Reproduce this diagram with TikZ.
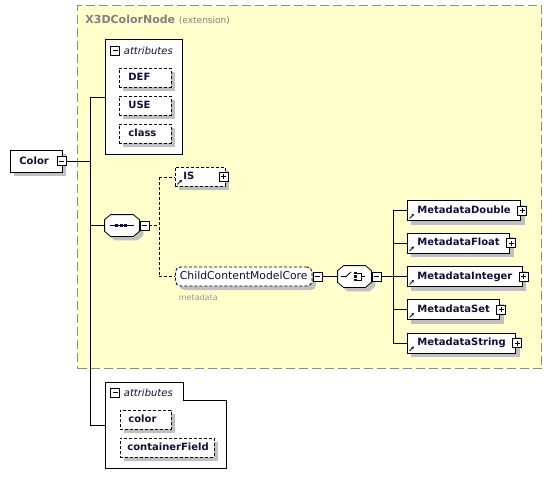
\documentclass[tikz,border=0pt]{standalone}
\usepackage{fontspec}
\setmainfont{DejaVu Sans}
\usetikzlibrary{shadows,arrows.meta}
\definecolor{txt}{HTML}{10103A}
\definecolor{shadowgray}{RGB}{192,192,192}
\definecolor{extfill}{RGB}{255,255,204}
\definecolor{extline}{RGB}{140,140,140}
\definecolor{titlegray}{RGB}{128,128,128}
\definecolor{metagray}{RGB}{150,150,150}
\newcommand\xsst{\rule[-2.4pt]{0pt}{9.7pt}}
\newcommand\xsarrow[1]{\draw[txt, line width=0.9pt, -{Stealth[length=3pt,width=3pt]}] ([shift={(2.5pt,2.5pt)}]#1.south west) -- ++(4.5pt,4.5pt);}
\newcommand\xsoct[1]{%
  \fill[shadowgray, transform canvas={shift={(4pt,-4pt)}}] ([xshift=6pt]#1.north west) -- ([xshift=-6pt]#1.north east) -- ([yshift=-5pt]#1.north east) -- ([yshift=5pt]#1.south east) -- ([xshift=-6pt]#1.south east) -- ([xshift=6pt]#1.south west) -- ([yshift=5pt]#1.south west) -- ([yshift=-5pt]#1.north west) -- cycle;
  \draw[fill=white, line width=0.8pt] ([xshift=6pt]#1.north west) -- ([xshift=-6pt]#1.north east) -- ([yshift=-5pt]#1.north east) -- ([yshift=5pt]#1.south east) -- ([xshift=-6pt]#1.south east) -- ([xshift=6pt]#1.south west) -- ([yshift=5pt]#1.south west) -- ([yshift=-5pt]#1.north west) -- cycle;}
\begin{document}
\begin{tikzpicture}[x=1pt,y=-1pt, line width=0.8pt,
  every node/.style={text=txt},
  pm/.style={draw=black, fill=white, minimum size=9pt, inner sep=0pt, line width=0.7pt},
  minus/.style={pm, path picture={\draw[line width=0.7pt] ([xshift=2pt]path picture bounding box.west) -- ([xshift=-2pt]path picture bounding box.east);}},
  plus/.style={pm, path picture={\draw[line width=0.7pt] ([xshift=2pt]path picture bounding box.west) -- ([xshift=-2pt]path picture bounding box.east) ([yshift=-2pt]path picture bounding box.north) -- ([yshift=2pt]path picture bounding box.south);}},
  shad/.style={drop shadow={shadow xshift=4pt, shadow yshift=-4pt, fill=shadowgray, opacity=1}},
  dsh/.style={dash pattern=on 3pt off 2pt},
  boldten/.style={font=\fontsize{10}{12}\selectfont\bfseries},
  attrbox/.style={draw, fill=white, dsh, shad, boldten, anchor=north west, inner xsep=9pt, inner ysep=0pt, minimum height=19pt, text width=34pt, align=left},
  elbox/.style={draw, fill=white, shad, boldten, anchor=west, inner xsep=0pt, inner ysep=0pt, minimum height=20pt},
  conn/.style={line width=0.8pt},
  hdr/.style={anchor=west, inner sep=0pt, font=\fontsize{10}{12}\selectfont\itshape},
]
\useasboundingbox[fill=white] (0,0) rectangle (551,488);

% extension area
\node[draw=extline, fill=extfill, dash pattern=on 9pt off 4pt, line width=1.2pt, minimum width=464pt, minimum height=363pt, anchor=north west, inner sep=0pt] (ext) at (77,5) {};
\node[anchor=west, inner sep=0pt, text=titlegray] (title) at (85,20) {\fontsize{11}{13}\selectfont\bfseries X3DColorNode \fontsize{9}{11}\selectfont\mdseries(extension)};

% first attributes group
\node[draw, fill=white, minimum width=77pt, minimum height=115pt, anchor=north west, inner sep=0pt] (attrA) at (105,39) {};
\node[minus] (minA) at (115,50.5) {};
\node[hdr] (hdrA) at (123.5,50.5) {attributes};
\node[attrbox] (def) at (119,68) {\xsst DEF};
\node[attrbox] (use) at (119,96) {\xsst USE};
\node[attrbox] (cls) at (119,124) {\xsst class};

% second attributes group
\node[minimum width=121pt, minimum height=86pt, anchor=north west, inner sep=0pt] (attrB) at (105,382) {};
\draw[fill=white] (105,382) -- (183,382) -- (183,400) -- (226,400) -- (226,468) -- (105,468) -- cycle;
\node[minus] (minB) at (115,392.5) {};
\node[hdr] (hdrB) at (123.5,392.5) {attributes};
\node[attrbox, inner xsep=8pt, text width=35pt] (colattr) at (120,410) {\xsst color};
\node[attrbox, inner xsep=7pt, text width=80pt] (cf) at (120,438) {\xsst containerField};

% root element
\node[draw, fill=white, shad, boldten, anchor=north west, inner xsep=9pt, inner ysep=0pt, minimum height=22pt, text width=34pt, align=left] (color) at (10,150) {\xsst Color};
\node[minus] (colminus) at (61.5,161) {};

% sequence
\node[minimum width=34pt, minimum height=21pt, inner sep=0pt] (seq) at (122,225.5) {};
\xsoct{seq}
\draw[line width=0.8pt] (110,225.5) -- (134,225.5);
\fill[txt] (115,224) rectangle (118,227);
\fill[txt] (119.5,224) rectangle (122.5,227);
\fill[txt] (124,224) rectangle (127,227);
\node[minus] (seqminus) at ([xshift=5pt]seq.east) {};

% root connectors
\coordinate (vA) at (90,97);
\coordinate (vB) at (90,425);
\draw[conn] (colminus.east) -- (colminus.east -| vA);
\draw[conn] (vA) -- (vB);
\draw[conn] (vA) -- (vA -| attrA.west);
\draw[conn] (seq.west -| vA) -- (seq.west);
\draw[conn] (vB) -- (vB -| attrB.west);

% IS
\node[attrbox, inner xsep=8pt] (is) at (175,167) {\xsst IS};
\xsarrow{is}
\node[plus] (isplus) at (223.5,176.5) {};

% ChildContentModelCore
\node[draw, fill=white, dsh, shad, rounded corners=5pt, anchor=west, inner xsep=4.5pt, inner ysep=0pt, minimum height=19pt, font=\fontsize{10.8}{13}\selectfont] (ccmc) at (175,276.5) {\xsst ChildContentModelCore};
\node[minus] (ccmcminus) at ([xshift=5pt]ccmc.east) {};
\node[anchor=west, inner sep=0pt, text=metagray, font=\fontsize{8}{10}\selectfont] (metalbl) at (178.5,298) {metadata};

% sequence connectors
\coordinate (sj) at (159,225.5);
\draw[conn,dsh] (seqminus.east) -- (sj);
\draw[conn,dsh] (sj |- is.west) -- (sj |- ccmc.west);
\draw[conn,dsh] (sj |- is.west) -- (is.west);
\draw[conn,dsh] (sj |- ccmc.west) -- (ccmc.west);

% choice
\node[minimum width=33pt, minimum height=21pt, inner sep=0pt] (choice) at (354.5,276.5) {};
\xsoct{choice}
\draw[line width=0.8pt] (341,276.5) -- (346,276.5) -- (351,272);
\fill[txt] (354,272) rectangle (356.5,274.2);
\fill[txt] (354,275.4) rectangle (356.5,277.6);
\fill[txt] (354,278.8) rectangle (356.5,281);
\draw[line width=0.8pt] (356.5,273.1) -- (361.5,273.1) -- (361.5,279.9) -- (356.5,279.9);
\draw[line width=0.8pt] (361.5,276.5) -- (365,276.5);
\node[minus] (choiceminus) at ([xshift=5pt]choice.east) {};
\draw[conn] (ccmcminus.east) -- (choice.west);

% metadata elements
\node[elbox] (md) at (407,210.5) {\xsst\hspace*{10pt}MetadataDouble\hspace*{10pt}};
\node[elbox] (mf) at (407,243) {\xsst\hspace*{10pt}MetadataFloat\hspace*{10pt}};
\node[elbox] (mi) at (407,276.5) {\xsst\hspace*{10pt}MetadataInteger\hspace*{10pt}};
\node[elbox] (ms) at (407,309.5) {\xsst\hspace*{10pt}MetadataSet\hspace*{10pt}};
\node[elbox] (mstr) at (407,343) {\xsst\hspace*{10pt}MetadataString\hspace*{10pt}};
\foreach \n in {md,mf,mi,ms,mstr} {
  \xsarrow{\n}
  \node[plus] (\n plus) at ([xshift=1pt]\n.east) {};
}
\coordinate (cj) at (393,276.5);
\draw[conn] (choiceminus.east) -- (cj);
\draw[conn] (cj |- md.west) -- (cj |- mstr.west);
\foreach \n in {md,mf,mi,ms,mstr} {
  \draw[conn] (cj |- \n.west) -- (\n.west);
}
\end{tikzpicture}
\end{document}
